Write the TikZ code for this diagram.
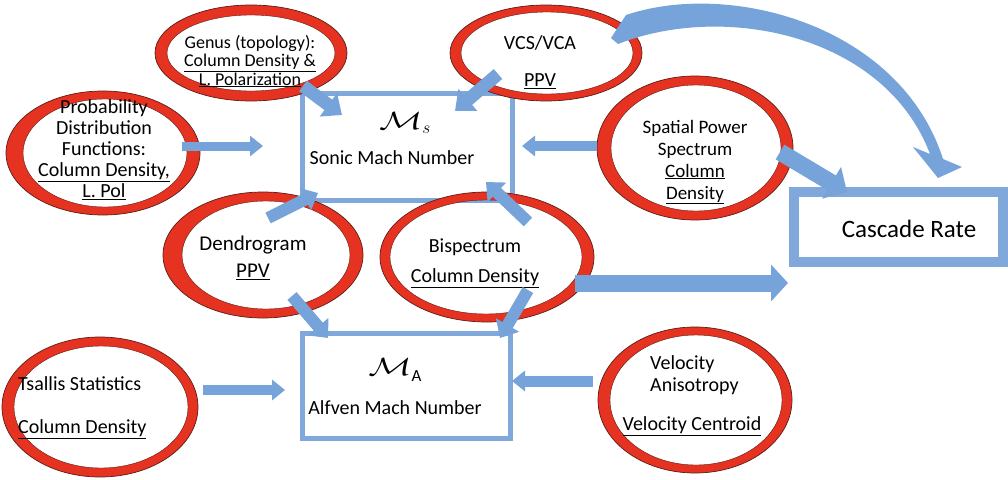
\documentclass[tikz,border=0pt]{standalone}
\usepackage{fontspec}
\setmainfont{Carlito}
\usepackage{graphicx}
\usetikzlibrary{arrows.meta}
\definecolor{ringred}{RGB}{230,50,32}
\definecolor{ringedge}{RGB}{90,30,25}
\definecolor{arrowblue}{RGB}{118,163,218}
\definecolor{boxblue}{RGB}{128,168,218}
\newcommand{\ringat}[7]{%
  \fill[ringred,even odd rule] (#1,#2) ellipse [x radius=#3pt,y radius=#4pt] (#1+#7,#2) ellipse [x radius=#5pt,y radius=#6pt];
  \draw[ringedge,line width=0.7pt] (#1,#2) ellipse [x radius=#3pt,y radius=#4pt];
  \draw[ringedge,line width=0.4pt] (#1+#7,#2) ellipse [x radius=#5pt,y radius=#6pt];
}
\newcommand{\calM}{\scalebox{1.45}[1]{$\mathcal{M}$}}
\tikzset{
  mbox/.style={draw=boxblue, line width=5pt, rectangle, inner sep=0pt},
  fat/.style n args={3}{draw=arrowblue, line width=#1, -{Triangle[length=#3, width=#2]}},
  txt/.style={font=\fontsize{20}{20.5}\selectfont, align=center, inner sep=0pt},
}
\begin{document}
\begin{tikzpicture}[x=1pt,y=-1pt]
\useasboundingbox (0,0) rectangle (1008,479);
% boxes
\node[mbox, minimum width=210pt, minimum height=107pt] (sonic) at (407,146.5) {};
\node[mbox, minimum width=208pt, minimum height=105pt] (alfven) at (406,385.5) {};
\node[draw=boxblue, line width=10pt, rectangle, minimum width=209pt, minimum height=70pt] (casc) at (898.5,227) {};
% rings
\ringat{251}{53}{96}{48}{84}{38}{0}
\ringat{546}{53}{96}{48}{86}{41}{1}
\ringat{103}{153}{97}{62}{82}{54}{2}
\ringat{695}{148}{98}{72}{85}{63}{1}
\ringat{263}{255}{100}{63}{84}{54}{3}
\ringat{487}{257}{107}{65}{96}{57}{-1}
\ringat{100}{407}{98}{70}{87}{61}{1}
\ringat{695}{400}{97}{73}{86}{65}{1}
% texts
\node[txt, font=\fontsize{18}{18.5}\selectfont] (genus) at (250,61) {Genus (topology):\\\underline{Column Density \&}\\\underline{L. Polarization}};
\node[txt, font=\fontsize{20}{21}\selectfont] (pdf) at (104,150) {Probability\\Distribution\\Functions:\\\underline{Column Density,}\\\underline{L. Pol}};
\node[txt] (vcs) at (540,62) {VCS/VCA\\[17pt]\underline{PPV}};
\node[txt, font=\fontsize{19}{22}\selectfont] (sps) at (695,162) {Spatial Power\\Spectrum\\\underline{Column}\\\underline{Density}};
\node[txt, font=\fontsize{21}{27}\selectfont] (dendro) at (253,258) {Dendrogram\\\underline{PPV}};
\node[txt, font=\fontsize{20}{30}\selectfont] (bisp) at (475,263) {Bispectrum\\\underline{Column Density}};
\node[txt, align=left, anchor=west, font=\fontsize{20}{21}\selectfont] (tsallis) at (18,408) {Tsallis Statistics\\[22pt]\underline{Column Density}};
\node[txt, align=left, anchor=west, font=\fontsize{20}{22}\selectfont] (veltitle) at (650,375) {Velocity\\Anisotropy};
\node[txt] (veldata) at (692,426) {\underline{Velocity Centroid}};
\node[txt, font=\fontsize{25}{30}\selectfont] (casclabel) at (909,229) {Cascade Rate};
\node[inner sep=0pt, font=\fontsize{26}{30}\selectfont] (sonicsym) at (405,123) {\calM$_{s}$};
\node[txt] (soniclabel) at (392,158) {Sonic Mach Number};
\node[inner sep=0pt, font=\fontsize{26}{30}\selectfont] (alfsym) at (395,370) {\calM\raisebox{-6pt}{\fontsize{17}{17}\selectfont A}};
\node[txt] (alflabel) at (395,408) {Alfven Mach Number};
% arrow end points
\coordinate (pdf-a) at (182,146);   \coordinate (pdf-b) at (263,146);
\coordinate (gen-a) at (303,86);    \coordinate (gen-b) at (342,115);
\coordinate (vcs-a) at (498,74);    \coordinate (vcs-b) at (455,111);
\coordinate (sps-a) at (597,146);   \coordinate (sps-b) at (522,146);
\coordinate (bis-a) at (528,222);   \coordinate (bis-b) at (486,182);
\coordinate (den-a) at (268,218);   \coordinate (den-b) at (318,193);
\coordinate (dal-a) at (292,296);   \coordinate (dal-b) at (328,338);
\coordinate (bal-a) at (528,290);   \coordinate (bal-b) at (500,338);
\coordinate (bca-a) at (575,283);   \coordinate (bca-b) at (788,283);
\coordinate (sca-a) at (780,152);   \coordinate (sca-b) at (847,192);
\coordinate (tsa-a) at (203,390);   \coordinate (tsa-b) at (285,390);
\coordinate (vel-a) at (593,381);   \coordinate (vel-b) at (512,381);
% arrows
\draw[fat={9pt}{20pt}{13pt}] (pdf-a) -- (pdf-b);
\draw[fat={13pt}{28pt}{17pt}] (gen-a) -- (gen-b);
\draw[fat={13pt}{28pt}{17pt}] (vcs-a) -- (vcs-b);
\draw[fat={10pt}{20pt}{13pt}] (sps-a) -- (sps-b);
\draw[fat={12pt}{26pt}{15pt}] (bis-a) -- (bis-b);
\draw[fat={12pt}{24pt}{14pt}] (den-a) -- (den-b);
\draw[fat={12pt}{26pt}{15pt}] (dal-a) -- (dal-b);
\draw[fat={12pt}{26pt}{15pt}] (bal-a) -- (bal-b);
\draw[fat={17pt}{36pt}{17pt}] (bca-a) -- (bca-b);
\draw[fat={17pt}{36pt}{18pt}] (sca-a) -- (sca-b);
\draw[fat={10pt}{20pt}{13pt}] (tsa-a) -- (tsa-b);
\draw[fat={11pt}{20pt}{13pt}] (vel-a) -- (vel-b);
% curved arrow VCS -> Cascade
\coordinate (cur-b) at (938,178);
\fill[arrowblue] (626,15) .. controls (730,-20) and (900,25) .. (943,159)
  -- (962,167) -- (cur-b) -- (913,147) -- (930,154)
  .. controls (885,35) and (725,2) .. (618,44) -- (611,38) -- cycle;
\end{tikzpicture}
\end{document}
